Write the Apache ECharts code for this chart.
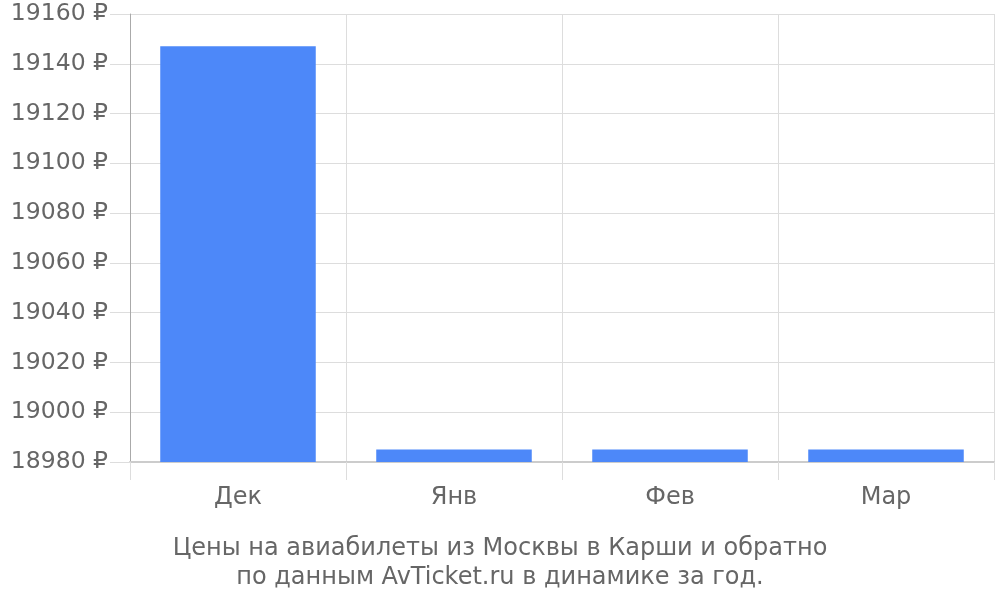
<!DOCTYPE html>
<html>
<head>
<meta charset="utf-8">
<script src="https://cdn.jsdelivr.net/npm/echarts@6/dist/echarts.min.js"></script>
<style>
html, body { margin: 0; padding: 0; background: #fff; }
#chart { width: 1000px; height: 600px; }
</style>
</head>
<body>
<div id="chart"></div>
<script>
// данные
var months = ['Дек', 'Янв', 'Фев', 'Мар'];
var prices = [19147, 18985, 18985, 18985];

var chart = echarts.init(document.getElementById('chart'));
chart.setOption({
    animation: false,
    color: ['#4d88f9'],
    textStyle: { fontFamily: 'DejaVu Sans' },
    title: {
        text: 'Цены на авиабилеты из Москвы в Карши и обратно\nпо данным AvTicket.ru в динамике за год.',
        left: 'center',
        top: 529,
        textStyle: {
            fontSize: 24,
            fontWeight: 'normal',
            color: '#666',
            lineHeight: 29,
            fontFamily: 'DejaVu Sans'
        }
    },
    grid: { left: 130, right: 6, top: 14, bottom: 138 },
    xAxis: {
        type: 'category',
        data: months,
        axisLine: { lineStyle: { color: '#ccc', width: 2 } },
        axisTick: { show: true, length: 18, lineStyle: { color: '#ddd' } },
        splitLine: { show: true, lineStyle: { color: '#ddd' } },
        axisLabel: { fontSize: 24, color: '#666', margin: 24 }
    },
    yAxis: {
        type: 'value',
        min: 18980,
        max: 19160,
        interval: 20,
        axisLine: { show: true, lineStyle: { color: '#aaa' } },
        axisTick: { show: true, length: 20, lineStyle: { color: '#ddd' } },
        splitLine: { lineStyle: { color: '#ddd' } },
        axisLabel: {
            fontSize: 23.5, color: '#666', margin: 22,
            formatter: function (v) { return v + ' ₽'; }
        }
    },
    series: [{
        type: 'bar',
        data: prices,
        barWidth: '72%'
    }]
});
</script>
</body>
</html>
